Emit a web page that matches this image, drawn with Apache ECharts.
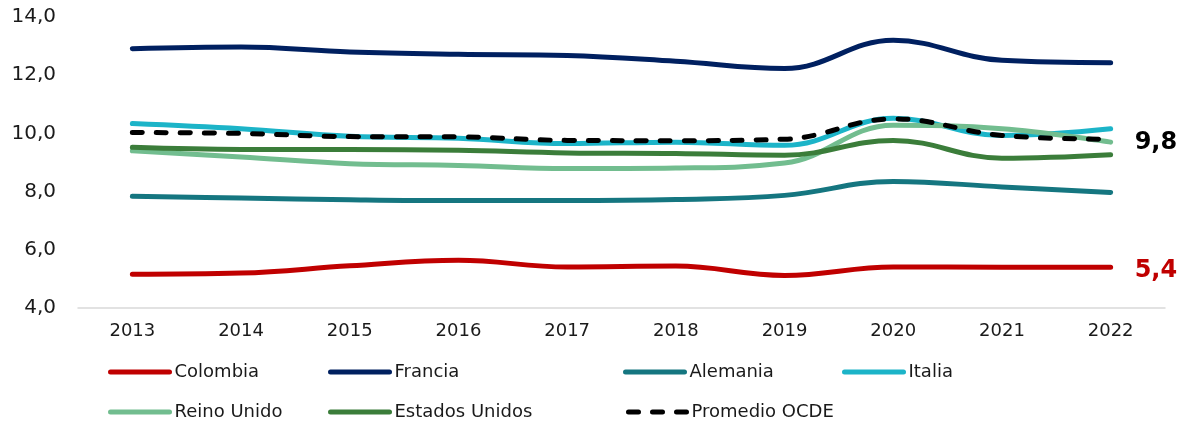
<!DOCTYPE html>
<html>
<head>
<meta charset="utf-8">
<script src="https://cdn.jsdelivr.net/npm/echarts@6/dist/echarts.min.js"></script>
<style>
  html, body { margin: 0; padding: 0; background: #fff; }
  #chart { width: 1185px; height: 428px; }
</style>
</head>
<body>
<div id="chart"></div>
<script>
// años
var years = ['2013', '2014', '2015', '2016', '2017', '2018', '2019', '2020', '2021', '2022'];

// valores
var colombia = [5.16, 5.20, 5.45, 5.64, 5.41, 5.44, 5.12, 5.41, 5.40, 5.40];
var francia = [12.91, 12.97, 12.80, 12.72, 12.68, 12.48, 12.23, 13.20, 12.51, 12.43];
var alemania = [7.84, 7.78, 7.72, 7.69, 7.69, 7.73, 7.87, 8.35, 8.16, 7.97];
var italia = [10.34, 10.16, 9.90, 9.83, 9.65, 9.70, 9.59, 10.52, 9.93, 10.16];
var reinoUnido = [9.40, 9.19, 8.96, 8.90, 8.79, 8.81, 8.98, 10.28, 10.16, 9.70];
var estadosUnidos = [9.52, 9.45, 9.45, 9.42, 9.33, 9.31, 9.25, 9.76, 9.15, 9.27];
var promedioOcde = [10.03, 10.00, 9.89, 9.88, 9.76, 9.75, 9.80, 10.50, 9.93, 9.80];

var yMin = 4, yMax = 14, yStep = 2;

var font = 'DejaVu Sans';
var textColor = '#1a1a1a';

function fmt(v) {
  return Number(v).toFixed(1).replace('.', ',');
}

function line(name, data, color, extra) {
  var s = {
    name: name,
    type: 'line',
    data: data,
    smooth: 0.4,
    symbol: 'none',
    lineStyle: { color: color, width: 5, cap: 'round', join: 'round' },
    itemStyle: { color: color },
    emphasis: { disabled: true }
  };
  return Object.assign(s, extra || {});
}

function endLabel(color) {
  return {
    show: true,
    distance: 24,
    offset: [0, 4],
    color: color,
    fontFamily: font,
    fontSize: 24,
    fontWeight: 'bold',
    formatter: function (p) { return fmt(p.value); }
  };
}

// una leyenda por elemento, como en la tabla de Excel
function legendItem(left, top, name, w) {
  return {
    left: left,
    top: top,
    itemWidth: w || 59,
    itemHeight: 18,
    selectedMode: false,
    lineStyle: { width: 5 },
    itemStyle: { opacity: 0 },
    textStyle: { fontFamily: font, fontSize: 18, color: textColor, lineHeight: 18 },
    data: [name]
  };
}

var chart = echarts.init(document.getElementById('chart'));
chart.setOption({
  animation: false,
  grid: { left: 78, right: 20, top: 17, bottom: 120 },
  legend: [
    legendItem(103, 358, 'Colombia'),
    legendItem(323, 358, 'Francia'),
    legendItem(618, 358, 'Alemania'),
    legendItem(837, 358, 'Italia'),
    legendItem(103, 398, 'Reino Unido'),
    legendItem(323, 398, 'Estados Unidos'),
    legendItem(621, 398, 'Promedio OCDE', 58)
  ],
  xAxis: {
    type: 'category',
    data: years,
    boundaryGap: true,
    axisLine: { lineStyle: { color: '#d9d9d9', width: 1.5 } },
    axisTick: { show: false },
    axisLabel: { margin: 14, fontFamily: font, fontSize: 18, color: textColor }
  },
  yAxis: {
    type: 'value',
    min: yMin,
    max: yMax,
    interval: yStep,
    axisLine: { show: false },
    axisTick: { show: false },
    splitLine: { show: false },
    axisLabel: { margin: 22, fontFamily: font, fontSize: 20, color: textColor, formatter: fmt }
  },
  series: [
    line('Colombia', colombia, '#c00000', { endLabel: endLabel('#c00000') }),
    line('Francia', francia, '#002060'),
    line('Alemania', alemania, '#157680'),
    line('Italia', italia, '#1cb4c8'),
    line('Reino Unido', reinoUnido, '#72bd8f'),
    line('Estados Unidos', estadosUnidos, '#3b7d3a'),
    line('Promedio OCDE', promedioOcde, '#000000', {
      lineStyle: { color: '#000000', width: 5, type: [10, 14], cap: 'round', join: 'round' },
      endLabel: endLabel('#000000')
    })
  ]
});
</script>
</body>
</html>
